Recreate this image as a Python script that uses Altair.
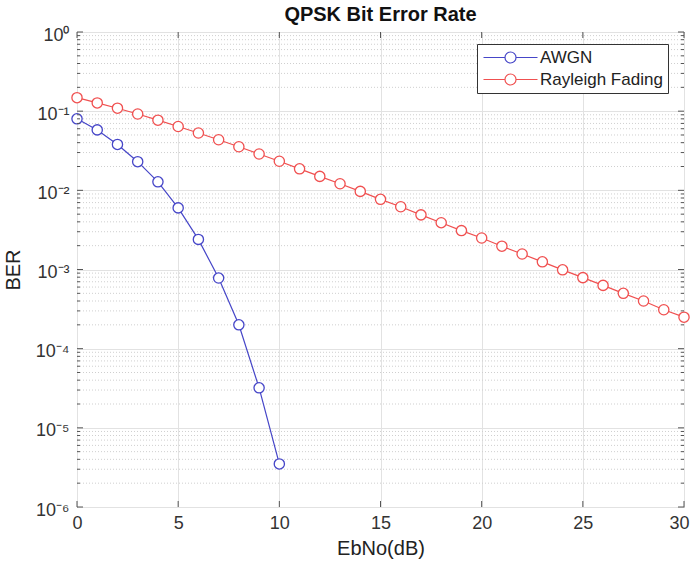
import altair as alt
import pandas as pd

# ---------------- data ----------------
ebno_awgn = [0, 1, 2, 3, 4, 5, 6, 7, 8, 9, 10]
ber_awgn = [0.08, 0.058, 0.038, 0.023, 0.0128, 0.006, 0.0024, 0.00078, 0.0002, 3.2e-5, 3.5e-6]

ebno_ray = list(range(0, 31))
ber_ray = [0.148, 0.127, 0.109, 0.092, 0.077, 0.064, 0.053, 0.0435, 0.0355, 0.0288,
           0.0233, 0.0187, 0.015, 0.0121, 0.0097, 0.0077, 0.0062, 0.0049, 0.0039, 0.0031,
           0.0025, 0.00197, 0.00157, 0.00125, 0.00099, 0.00079, 0.00063, 0.0005, 0.0004,
           0.00031, 0.00025]

series_names = ["AWGN", "Rayleigh Fading"]
series_colors = ["#4646c8", "#f05050"]

x_ticks = [0, 5, 10, 15, 20, 25, 30]
y_exponents = [-6, -5, -4, -3, -2, -1, 0]
y_ticks = [10.0 ** e for e in y_exponents]
y_minor = [k * 10.0 ** e for e in y_exponents[:-1] for k in range(2, 10)]

sup = {"-": "\u207b", "0": "\u2070", "1": "\u00b9", "2": "\u00b2", "3": "\u00b3",
       "4": "\u2074", "5": "\u2075", "6": "\u2076", "7": "\u2077", "8": "\u2078", "9": "\u2079"}
y_labels = {str(e): "10" + "".join(sup[c] for c in str(e)) for e in y_exponents}

df = pd.DataFrame(
    {"EbNo": ebno_awgn + ebno_ray,
     "BER": ber_awgn + ber_ray,
     "Series": [series_names[0]] * len(ebno_awgn) + [series_names[1]] * len(ebno_ray)}
)
df_ymaj = pd.DataFrame({"v": y_ticks})
df_ymin = pd.DataFrame({"v": y_minor})
df_xmaj = pd.DataFrame({"x": x_ticks})

W, H = 607, 475
FONT = "Liberation Sans"
FRAME = "#555555"

xscale = alt.Scale(domain=[0, 30], nice=False, zero=False)
yscale = alt.Scale(type="log", domain=[1e-6, 1], nice=False)

label_expr = ("{" + ",".join(f"'{k}':'{v}'" for k, v in y_labels.items())
              + "}[''+round(log(datum.value)/LN10)]")

x_axis = alt.Axis(values=x_ticks, title="EbNo(dB)", grid=True, format="d",
                  labelPadding=7, titlePadding=6, labelFlush=True, labelFlushOffset=5)
y_axis = alt.Axis(values=y_ticks, title="BER", grid=True, labelExpr=label_expr,
                  labelPadding=8, labelOffset=3, titlePadding=12, labelOverlap=False)

# minor dotted grid
minor_grid = alt.Chart(df_ymin).mark_rule(color="#cfcfcf", strokeDash=[1, 2], strokeWidth=1).encode(
    y=alt.Y("v:Q", scale=yscale, axis=y_axis)
)

# inward ticks
minor_tick_l = alt.Chart(df_ymin).mark_rule(color=FRAME, strokeWidth=1).encode(
    y=alt.Y("v:Q", scale=yscale, axis=y_axis), x=alt.value(0), x2=alt.value(3)
)
minor_tick_r = alt.Chart(df_ymin).mark_rule(color=FRAME, strokeWidth=1).encode(
    y=alt.Y("v:Q", scale=yscale, axis=y_axis), x=alt.value(W - 3), x2=alt.value(W)
)
major_tick_l = alt.Chart(df_ymaj).mark_rule(color=FRAME, strokeWidth=1).encode(
    y=alt.Y("v:Q", scale=yscale, axis=y_axis), x=alt.value(0), x2=alt.value(6)
)
major_tick_r = alt.Chart(df_ymaj).mark_rule(color=FRAME, strokeWidth=1).encode(
    y=alt.Y("v:Q", scale=yscale, axis=y_axis), x=alt.value(W - 6), x2=alt.value(W)
)
xtick_b = alt.Chart(df_xmaj).mark_rule(color=FRAME, strokeWidth=1).encode(
    x=alt.X("x:Q", scale=xscale, axis=x_axis), y=alt.value(H - 6), y2=alt.value(H)
)
xtick_t = alt.Chart(df_xmaj).mark_rule(color=FRAME, strokeWidth=1).encode(
    x=alt.X("x:Q", scale=xscale, axis=x_axis), y=alt.value(0), y2=alt.value(6)
)

# legend symbol: line with an open circle in the middle (unit = 6 px)
legend_symbol = ("M-4.5,0L-0.92,0M0.92,0L4.5,0M0.92,0A0.92,0.92,0,1,1,-0.92,0"
                 "A0.92,0.92,0,1,1,0.92,0Z")

lines = alt.Chart(df).mark_line(
    strokeWidth=1.2,
    point=alt.OverlayMarkDef(shape="circle", filled=False, fill="white", size=105, strokeWidth=1.3),
).encode(
    x=alt.X("EbNo:Q", scale=xscale, axis=x_axis),
    y=alt.Y("BER:Q", scale=yscale, axis=y_axis),
    color=alt.Color("Series:N", scale=alt.Scale(domain=series_names, range=series_colors),
                    legend=alt.Legend(title=None, orient="none", legendX=400, legendY=12,
                                      symbolType=legend_symbol, symbolSize=144,
                                      symbolStrokeWidth=1.2, symbolFillColor="white",
                                      symbolOffset=20, labelOffset=21,
                                      labelFontSize=17, labelFont=FONT, labelColor="#222",
                                      rowPadding=4, padding=5,
                                      fillColor="white", strokeColor="#333333")),
)

chart = alt.layer(
    minor_grid, lines, minor_tick_l, minor_tick_r, major_tick_l, major_tick_r, xtick_b, xtick_t
).properties(
    width=W, height=H,
    title=alt.TitleParams("QPSK Bit Error Rate", font=FONT, fontSize=20, fontWeight="bold",
                          color="#111", anchor="middle", offset=6, dy=5),
    autosize=alt.AutoSizeParams(type="none"),
    padding={"left": 77, "top": 32, "right": 8, "bottom": 62},
    background="white",
).configure_view(
    stroke=FRAME, strokeWidth=1
).configure_axis(
    labelFont=FONT, labelFontSize=18, labelColor="#333333",
    titleFont=FONT, titleFontSize=20, titleFontWeight="normal", titleColor="#222222",
    domain=False, ticks=False, gridColor="#e2e2e2", gridWidth=1,
)

chart.save("out.html", embed_options={"renderer": "svg", "actions": False})
